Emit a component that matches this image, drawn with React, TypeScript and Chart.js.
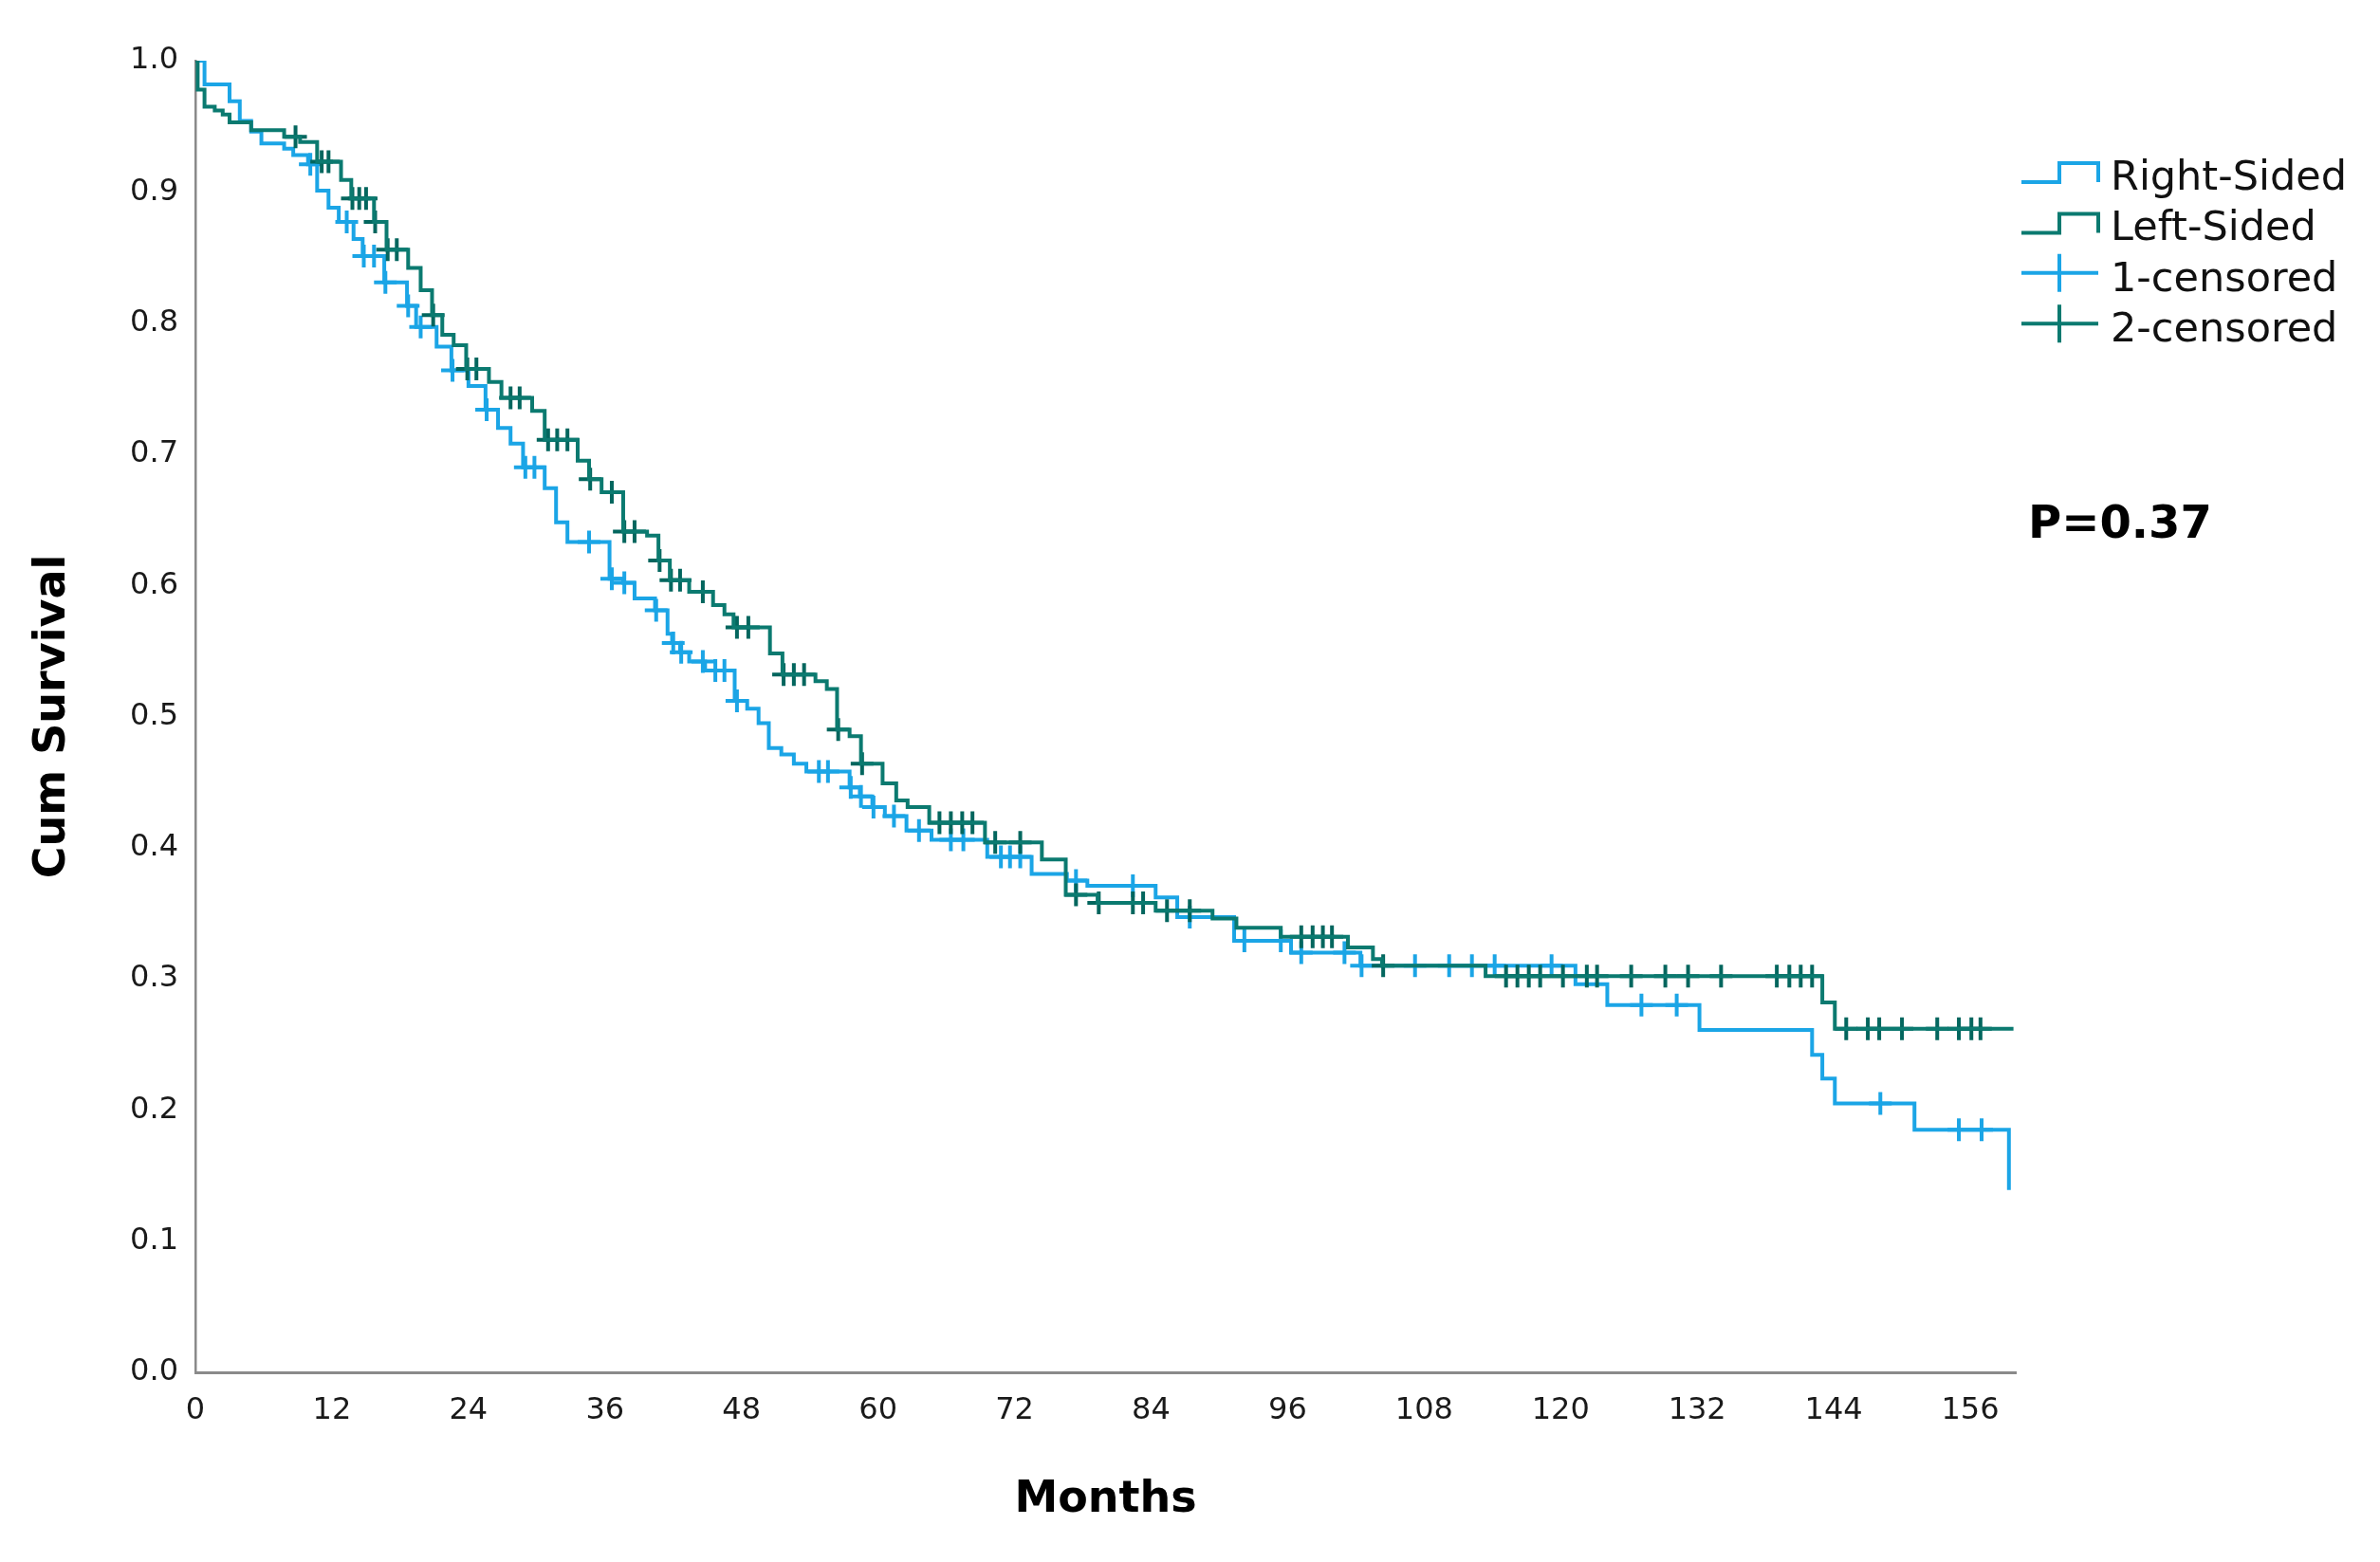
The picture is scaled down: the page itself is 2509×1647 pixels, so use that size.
import React, { useEffect, useRef } from 'react';
import { Chart, registerables } from 'chart.js';

Chart.register(...registerables);

const W = 2509;
const H = 1647;

// Right-Sided (group 1) Kaplan-Meier steps: month -> cumulative survival
const rightTimes = [0, 0.8, 3.0, 3.9, 4.9, 5.8, 7.8, 8.6, 9.9, 10.7, 11.7, 12.6, 13.9, 14.7, 16.6, 18.6, 19.4, 21.2, 22.5, 24.0, 25.5, 26.6, 27.7, 28.8, 30.7, 31.7, 32.7, 36.4, 37.6, 38.6, 40.4, 41.5, 41.9, 42.6, 43.4, 44.8, 47.4, 48.5, 49.5, 50.4, 51.5, 52.6, 53.7, 57.5, 58.4, 59.5, 60.6, 62.5, 64.7, 69.6, 73.5, 76.6, 78.4, 84.4, 86.3, 91.3, 96.3, 102.4, 121.3, 124.1, 132.2, 142.1, 143.0, 144.1, 151.1, 159.4];
const rightSurv = [1.0, 0.982, 0.969, 0.954, 0.946, 0.937, 0.933, 0.928, 0.921, 0.901, 0.888, 0.877, 0.864, 0.851, 0.831, 0.813, 0.797, 0.782, 0.764, 0.752, 0.734, 0.720, 0.708, 0.690, 0.674, 0.648, 0.633, 0.605, 0.602, 0.590, 0.581, 0.563, 0.556, 0.549, 0.542, 0.535, 0.512, 0.506, 0.495, 0.476, 0.471, 0.464, 0.458, 0.446, 0.439, 0.431, 0.424, 0.413, 0.406, 0.393, 0.380, 0.375, 0.371, 0.362, 0.347, 0.329, 0.320, 0.310, 0.296, 0.280, 0.261, 0.242, 0.224, 0.205, 0.185, 0.139];
const rightCensored = [10.1, 13.3, 14.8, 15.7, 16.7, 18.7, 19.8, 22.6, 25.6, 29.0, 29.8, 34.6, 36.6, 37.7, 40.5, 42.0, 42.7, 44.6, 45.7, 46.5, 47.6, 54.8, 55.6, 57.6, 58.5, 59.6, 61.4, 63.6, 66.4, 67.5, 70.8, 71.6, 72.5, 77.4, 82.4, 87.4, 92.2, 95.4, 97.2, 101.0, 102.5, 107.2, 110.2, 112.2, 114.2, 119.2, 127.1, 130.2, 148.1, 155.0, 157.0];

// Left-Sided (group 2)
const leftTimes = [0, 0.2, 0.8, 1.7, 2.4, 3.0, 4.9, 7.8, 9.2, 10.7, 12.8, 13.7, 15.7, 16.8, 18.7, 19.8, 20.8, 21.7, 22.7, 23.8, 25.8, 26.9, 29.6, 30.7, 33.6, 34.6, 35.7, 37.6, 39.7, 40.7, 41.7, 43.4, 45.5, 46.5, 47.3, 50.5, 51.6, 54.5, 55.5, 56.4, 57.5, 58.5, 60.4, 61.6, 62.6, 64.5, 69.4, 74.4, 76.5, 79.3, 84.4, 89.4, 91.5, 95.4, 101.3, 103.5, 104.3, 113.4, 143.0, 144.1, 159.8];
const leftSurv = [1.0, 0.978, 0.965, 0.962, 0.959, 0.953, 0.947, 0.942, 0.938, 0.923, 0.909, 0.895, 0.877, 0.856, 0.842, 0.825, 0.806, 0.791, 0.783, 0.765, 0.755, 0.743, 0.733, 0.711, 0.695, 0.681, 0.671, 0.641, 0.638, 0.619, 0.604, 0.595, 0.585, 0.578, 0.568, 0.548, 0.532, 0.527, 0.521, 0.490, 0.485, 0.464, 0.449, 0.436, 0.431, 0.419, 0.404, 0.391, 0.364, 0.358, 0.352, 0.346, 0.339, 0.332, 0.324, 0.315, 0.310, 0.302, 0.282, 0.262, 0.262];
const leftCensored = [8.8, 11.1, 11.7, 13.8, 14.4, 15.0, 15.8, 16.9, 17.7, 20.9, 23.9, 24.7, 27.7, 28.5, 31.0, 31.8, 32.7, 34.7, 36.6, 37.7, 38.6, 40.8, 41.8, 42.6, 44.6, 47.6, 48.6, 51.7, 52.6, 53.5, 56.5, 58.6, 65.4, 66.4, 67.4, 68.3, 70.3, 72.5, 77.4, 79.4, 82.4, 83.3, 85.4, 87.4, 97.2, 98.2, 99.1, 99.9, 104.4, 115.2, 116.2, 117.2, 118.2, 120.2, 122.3, 123.2, 126.2, 129.2, 131.2, 134.1, 139.0, 140.1, 141.1, 142.1, 145.1, 147.0, 148.0, 150.0, 153.1, 155.0, 156.1, 156.9];

const xTicks = [0, 12, 24, 36, 48, 60, 72, 84, 96, 108, 120, 132, 144, 156];
const yTicks = [0, 0.1, 0.2, 0.3, 0.4, 0.5, 0.6, 0.7, 0.8, 0.9, 1.0];
const legendLabels = ['Right-Sided', 'Left-Sided', '1-censored', '2-censored'];
const pValueText = 'P=0.37';

const BLUE = '#1ba5e6';
const GREEN = '#0b7a70';
const GREEN_DARK = '#03665e';

function survAt(times: number[], surv: number[], t: number) {
  let v = surv[0];
  for (let i = 0; i < times.length; i++) if (times[i] <= t) v = surv[i];
  return v;
}

const legendPlugin = {
  id: 'kmLegend',
  afterDraw(chart: any) {
    const ctx = chart.ctx as CanvasRenderingContext2D;
    ctx.save();
    const x0 = 2131, xMid = 2171, x1 = 2212, textX = 2225;
    const base0 = 200, step = 53.4;
    const colors = [BLUE, GREEN, BLUE, GREEN];
    ctx.lineCap = 'butt';
    ctx.lineJoin = 'miter';
    for (let i = 0; i < legendLabels.length; i++) {
      const b = base0 + step * i;
      ctx.strokeStyle = colors[i];
      ctx.lineWidth = 4;
      ctx.beginPath();
      if (i < 2) {
        const low = b - 8, high = b - 28;
        ctx.moveTo(x0, low);
        ctx.lineTo(xMid, low);
        ctx.lineTo(xMid, high);
        ctx.lineTo(x1, high);
        ctx.lineTo(x1, low);
      } else {
        const yl = b - 19;
        ctx.moveTo(x0, yl);
        ctx.lineTo(x1, yl);
        ctx.moveTo(xMid, yl - 20);
        ctx.lineTo(xMid, yl + 20);
      }
      ctx.stroke();
      ctx.fillStyle = '#111';
      ctx.font = '43px "DejaVu Sans"';
      ctx.textAlign = 'left';
      ctx.textBaseline = 'alphabetic';
      ctx.fillText(legendLabels[i], textX, b);
    }
    ctx.font = 'bold 48px "DejaVu Sans"';
    ctx.fillStyle = '#000';
    ctx.fillText(pValueText, 2138, 567);
    ctx.restore();
  },
};

export default function App() {
  const ref = useRef<HTMLCanvasElement | null>(null);

  useEffect(() => {
    if (!ref.current) return;
    const rightLine = rightTimes.map((t, i) => ({ x: t, y: rightSurv[i] }));
    const leftLine = leftTimes.map((t, i) => ({ x: t, y: leftSurv[i] }));
    const rightMarks = rightCensored.map((t) => ({ x: t, y: survAt(rightTimes, rightSurv, t) }));
    const leftMarks = leftCensored.map((t) => ({ x: t, y: survAt(leftTimes, leftSurv, t) }));

    const chart = new Chart(ref.current, {
      type: 'line',
      data: {
        datasets: [
          {
            label: legendLabels[0],
            data: rightLine,
            borderColor: BLUE,
            borderWidth: 4,
            pointRadius: 0,
            stepped: 'before',
            fill: false,
            order: 2,
          },
          {
            label: legendLabels[1],
            data: leftLine,
            borderColor: GREEN,
            borderWidth: 4,
            pointRadius: 0,
            stepped: 'before',
            fill: false,
            order: 1,
          },
          {
            label: legendLabels[2],
            data: rightMarks,
            showLine: false,
            pointStyle: 'cross',
            pointRadius: 12,
            pointBorderWidth: 4,
            pointBorderColor: BLUE,
            borderColor: BLUE,
            order: 2,
          },
          {
            label: legendLabels[3],
            data: leftMarks,
            showLine: false,
            pointStyle: 'cross',
            pointRadius: 12,
            pointBorderWidth: 4,
            pointBorderColor: GREEN_DARK,
            borderColor: GREEN_DARK,
            order: 1,
          },
        ] as any,
      },
      options: {
        animation: false,
        responsive: false,
        events: [],
        layout: { padding: { left: 0, top: 64, right: 384, bottom: 0 } },
        plugins: {
          legend: { display: false },
          tooltip: { enabled: false },
        },
        scales: {
          x: {
            type: 'linear',
            min: 0,
            max: 160,
            afterBuildTicks: (s: any) => {
              s.ticks = xTicks.map((v) => ({ value: v }));
            },
            afterFit: (s: any) => {
              s.height = 200;
            },
            grid: { display: false, drawTicks: false },
            border: { display: true, color: '#8a8a8a', width: 3 },
            ticks: {
              autoSkip: false,
              maxRotation: 0,
              padding: 21,
              color: '#1a1a1a',
              font: { family: 'DejaVu Sans', size: 32 },
              callback: (v: any) => String(v),
            },
            title: {
              display: true,
              text: 'Months',
              color: '#000',
              font: { family: 'DejaVu Sans', size: 46, weight: 'bold' },
              padding: { top: 0, bottom: 37 },
            },
          },
          y: {
            type: 'linear',
            min: 0,
            max: 1,
            afterBuildTicks: (s: any) => {
              s.ticks = yTicks.map((v) => ({ value: v }));
            },
            afterFit: (s: any) => {
              s.width = 206;
            },
            grid: { display: false, drawTicks: false },
            border: { display: true, color: '#8a8a8a', width: 2.5 },
            ticks: {
              padding: 18,
              color: '#1a1a1a',
              font: { family: 'DejaVu Sans', size: 32 },
              callback: (v: any) => Number(v).toFixed(1),
            },
            title: {
              display: true,
              text: 'Cum Survival',
              color: '#000',
              font: { family: 'DejaVu Sans', size: 46, weight: 'bold' },
              padding: { top: 28, bottom: 0 },
            },
          },
        },
      } as any,
      plugins: [legendPlugin],
    });
    return () => chart.destroy();
  }, []);

  return (
    <div style={{ position: 'absolute', left: 0, top: 0, width: W, height: H, background: '#fff' }}>
      <canvas ref={ref} width={W} height={H} style={{ display: 'block', width: W, height: H }} />
    </div>
  );
}
